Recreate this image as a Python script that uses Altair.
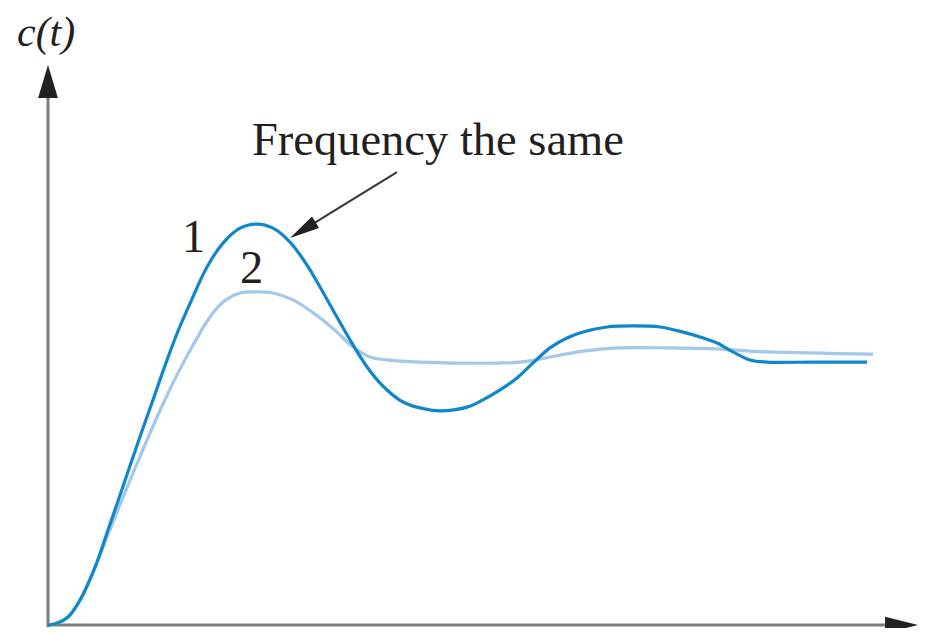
import altair as alt
import pandas as pd
import math

# ---- data (t in time units, c in units of the final value) ----
t1 = [0.0, 0.105, 0.233, 0.372, 0.547, 0.686, 0.814, 0.953, 1.093, 1.233, 1.372, 1.512,
      1.674, 1.849, 2.035, 2.233, 2.430, 2.616, 2.814, 3.012, 3.163, 3.360, 3.547, 3.744,
      3.942, 4.128, 4.326, 4.558, 4.872, 5.058, 5.256, 5.453, 5.640, 5.837, 6.035, 6.221,
      6.500, 6.802, 7.116, 7.384, 7.581, 7.779, 7.965, 8.163, 8.360, 8.900, 9.523]
c1 = [0.0, 0.007, 0.030, 0.093, 0.216, 0.343, 0.463, 0.593, 0.724, 0.851, 0.978, 1.097,
      1.216, 1.336, 1.425, 1.481, 1.496, 1.481, 1.429, 1.343, 1.261, 1.149, 1.045, 0.948,
      0.877, 0.832, 0.810, 0.799, 0.813, 0.840, 0.877, 0.922, 0.978, 1.034, 1.071, 1.093,
      1.112, 1.116, 1.112, 1.093, 1.075, 1.052, 1.019, 0.989, 0.981, 0.981, 0.981]

t2 = [0.0, 0.105, 0.233, 0.372, 0.547, 0.686, 0.837, 0.988, 1.151, 1.326, 1.500, 1.674,
      1.860, 2.035, 2.233, 2.430, 2.616, 2.849, 3.163, 3.360, 3.547, 3.744, 3.942, 4.326,
      5.488, 5.837, 6.221, 6.616, 7.198, 7.779, 8.360, 9.593]
c2 = [0.0, 0.007, 0.030, 0.090, 0.213, 0.328, 0.448, 0.567, 0.690, 0.817, 0.933, 1.037,
      1.138, 1.205, 1.239, 1.243, 1.239, 1.213, 1.146, 1.093, 1.037, 1.000, 0.989, 0.981,
      0.981, 1.000, 1.022, 1.034, 1.034, 1.030, 1.019, 1.011]

# annotations (data units)
label_text = ["c(t)", "Frequency the same", "1", "2"]
label_t = [-0.3605, 2.372, 1.558, 2.233]
label_c = [2.160, 1.754, 1.392, 1.276]
label_italic = ["italic", "normal", "normal", "normal"]

pointer_from = (4.058, 1.690)
pointer_to = (2.814, 1.444)

axis_t_end = 9.733
axis_c_end = 1.996

# ---- layout ----
W, H = 919, 620
PX_T, PX_C = 86.0, 268.0
ORIGIN_X, ORIGIN_Y = 48.0, 625.0  # page pixels of the origin
x_dom = [(8 - ORIGIN_X) / PX_T, (8 + W - ORIGIN_X) / PX_T]
y_dom = [(ORIGIN_Y - 8 - H) / PX_C, (ORIGIN_Y - 8) / PX_C]
xs = alt.Scale(domain=x_dom, nice=False, zero=False)
ys = alt.Scale(domain=y_dom, nice=False, zero=False)

df1 = pd.DataFrame({"t": t1, "c": c1})
df2 = pd.DataFrame({"t": t2, "c": c2})

X = alt.X("t:Q", scale=xs, axis=None)
Y = alt.Y("c:Q", scale=ys, axis=None)

curve2 = alt.Chart(df2).mark_line(color="#a3c8ea", strokeWidth=3.2,
                                  interpolate="catmull-rom").encode(x=X, y=Y, order="t:Q")
curve1 = alt.Chart(df1).mark_line(color="#0f87c9", strokeWidth=3.2,
                                  interpolate="catmull-rom").encode(x=X, y=Y, order="t:Q")

# axes lines
axes_df = pd.DataFrame({
    "t": [0.0, 0.0],
    "c": [-0.008, 0.0],
    "t2": [0.0, axis_t_end],
    "c2": [axis_c_end, 0.0],
})
axes = alt.Chart(axes_df).mark_rule(color="#7d7d7d", strokeWidth=3).encode(
    x=X, y=Y, x2="t2:Q", y2="c2:Q")

# arrowheads on the axes
yarrow = alt.Chart(pd.DataFrame({"t": [0.0], "c": [(ORIGIN_Y - 81.5) / PX_C]})).mark_point(
    shape="M0,-1L0.6,1L-0.6,1Z", size=33 * 33, filled=True, color="#222222", opacity=1
).encode(x=X, y=Y)
xarrow = alt.Chart(pd.DataFrame({"t": [axis_t_end + 16.5 / PX_T], "c": [0.0]})).mark_point(
    shape="M1,0L-1,-0.5L-1,0.5Z", size=33 * 33, filled=True, color="#222222", opacity=1
).encode(x=X, y=Y)

# pointer arrow
dx = (pointer_to[0] - pointer_from[0]) * PX_T
dy = -(pointer_to[1] - pointer_from[1]) * PX_C
L = math.hypot(dx, dy)
ang = math.degrees(math.atan2(dy, dx)) % 360
head_len = 30
cx = pointer_to[0] - (dx / L) * head_len / 2 / PX_T
cy = pointer_to[1] + (dy / L) * head_len / 2 / PX_C

pointer_line = alt.Chart(pd.DataFrame({
    "t": [pointer_from[0]], "c": [pointer_from[1]],
    "t2": [cx], "c2": [cy]})).mark_rule(color="#3a3a3a", strokeWidth=2.2).encode(
    x=X, y=Y, x2="t2:Q", y2="c2:Q")
pointer_head = alt.Chart(pd.DataFrame({"t": [cx], "c": [cy]})).mark_point(
    shape="M1,0L-1,-0.45L-1,0.45Z", size=head_len * head_len, filled=True,
    color="#222222", opacity=1, angle=ang).encode(x=X, y=Y)

labels_df = pd.DataFrame({"t": label_t, "c": label_c, "txt": label_text, "st": label_italic})
labels_n = alt.Chart(labels_df[labels_df.st == "normal"]).mark_text(
    font="Liberation Serif", fontSize=46.5, align="left", baseline="alphabetic",
    color="#231f20").encode(x=X, y=Y, text="txt:N")
labels_i = alt.Chart(labels_df[labels_df.st == "italic"]).mark_text(
    font="Liberation Serif", fontSize=42, fontStyle="italic", align="left",
    baseline="alphabetic", color="#231f20").encode(x=X, y=Y, text="txt:N")

chart = alt.layer(axes, curve2, curve1, yarrow, xarrow, pointer_line, pointer_head,
                  labels_n, labels_i).properties(
    width=W, height=H, padding=0, autosize=alt.AutoSizeParams(type="none"),
    background="white"
).configure_view(stroke=None)

chart.save("out.html", embed_options={"renderer": "svg", "actions": False})
